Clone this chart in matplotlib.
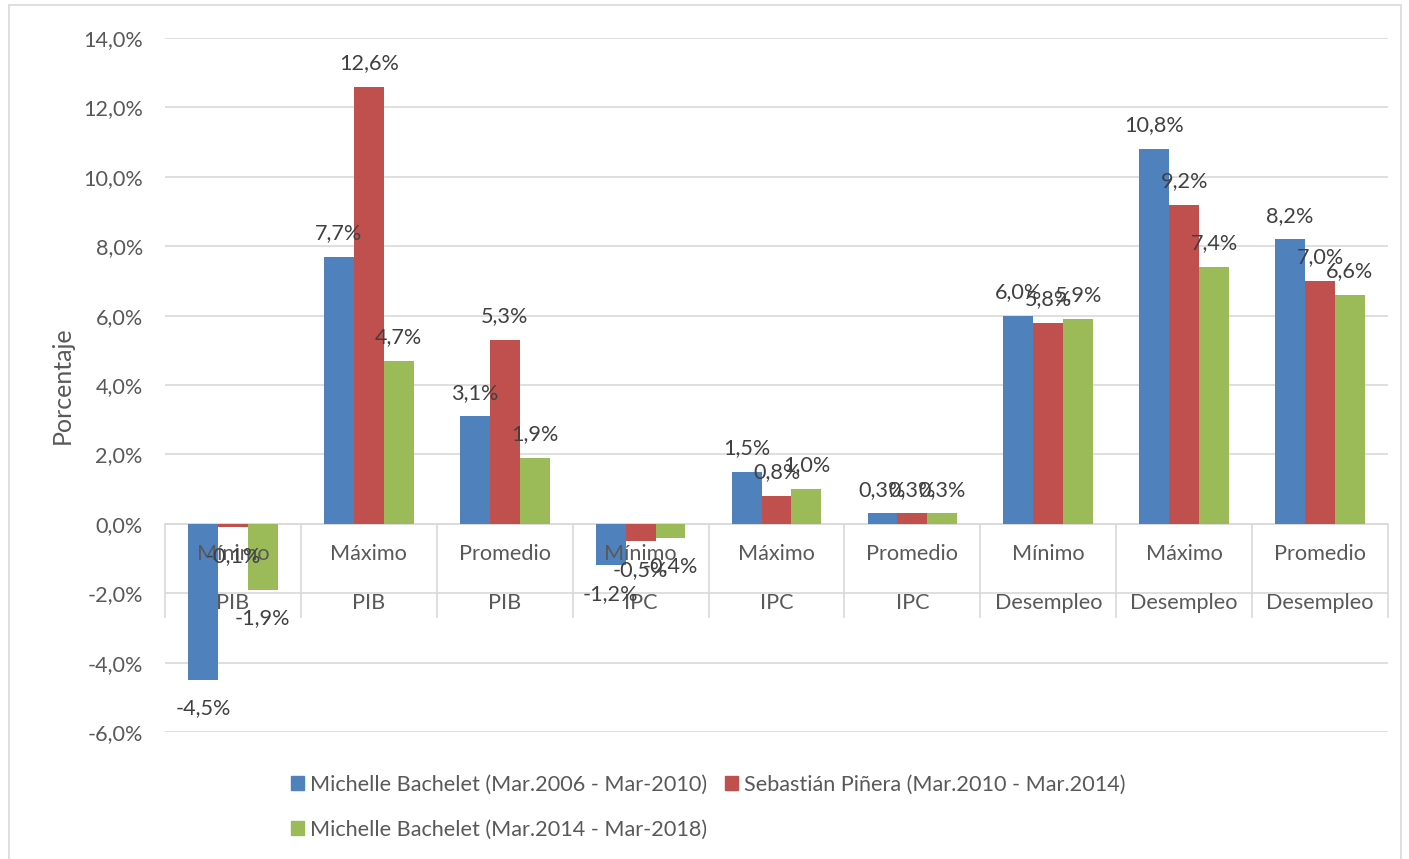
import matplotlib
matplotlib.use("Agg")
import matplotlib.pyplot as plt
from matplotlib.patches import Rectangle, Patch
from matplotlib.ticker import FuncFormatter, MultipleLocator
import numpy as np

# ---- data ----
sub_labels = ["Mínimo", "Máximo", "Promedio"] * 3
group_labels = ["PIB"] * 3 + ["IPC"] * 3 + ["Desempleo"] * 3
series_names = [
    "Michelle Bachelet (Mar.2006 - Mar-2010)",
    "Sebastián Piñera (Mar.2010 - Mar.2014)",
    "Michelle Bachelet (Mar.2014 - Mar-2018)",
]
bachelet1 = [-4.5, 7.7, 3.1, -1.2, 1.5, 0.3, 6.0, 10.8, 8.2]
pinera = [-0.1, 12.6, 5.3, -0.5, 0.8, 0.3, 5.8, 9.2, 7.0]
bachelet2 = [-1.9, 4.7, 1.9, -0.4, 1.0, 0.3, 5.9, 7.4, 6.6]
y_ticks = [-6, -4, -2, 0, 2, 4, 6, 8, 10, 12, 14]

colors = ["#4F81BD", "#C0504D", "#9BBB59"]
FONT = "Lato"
TXT = "#595959"
LBL = "#404040"
GRID = "#D9D9D9"
FS = 15.6

W, H = 1409, 859
fig = plt.figure(figsize=(W / 100, H / 100), dpi=100)
ax = fig.add_axes([165 / W, 1 - 732 / H, (1388 - 165) / W, (732 - 38) / H])

n = len(sub_labels)
x = np.arange(n)
bw = 0.22
series = [bachelet1, pinera, bachelet2]
for i, (vals, c) in enumerate(zip(series, colors)):
    xs = x + (i - 1) * bw
    ax.bar(xs, vals, width=bw, color=c, zorder=3)
    for xv, v in zip(xs, vals):
        off = 17 if v >= 0 else -20.5
        ax.annotate(f"{v:.1f}%".replace(".", ","), (xv, v), xytext=(0, off),
                    textcoords="offset points", ha="center", va="center",
                    fontsize=FS, family=FONT, color=LBL, zorder=6)

ax.set_xlim(-0.5, n - 0.5)
ax.set_ylim(y_ticks[0], y_ticks[-1])
ax.yaxis.set_major_locator(MultipleLocator(2))
ax.yaxis.set_major_formatter(FuncFormatter(lambda v, p: f"{v:.1f}%".replace(".", ",")))
ax.grid(axis="y", color=GRID, linewidth=1.2, zorder=0)
ax.set_axisbelow(True)
for s in ax.spines.values():
    s.set_visible(False)
ax.tick_params(axis="y", length=0, pad=16, labelsize=FS, labelcolor=TXT)
for t in ax.get_yticklabels():
    t.set_family(FONT)
ax.set_xticks([])

# zero line
ax.axhline(0, color=GRID, linewidth=1.2, zorder=2)

# category separators and labels (multi-level axis)
for b in np.arange(-0.5, n, 1.0):
    ax.plot([b, b], [0, -2.68], color=GRID, linewidth=1.2, zorder=2, clip_on=False)
for xi, (sl, gl) in enumerate(zip(sub_labels, group_labels)):
    ax.annotate(sl, (xi, 0), xytext=(0, -30 / 1.389), textcoords="offset points",
                ha="center", va="center", fontsize=FS, family=FONT, color=TXT, zorder=5)
    ax.annotate(gl, (xi, 0), xytext=(0, -79 / 1.389), textcoords="offset points",
                ha="center", va="center", fontsize=FS, family=FONT, color=TXT, zorder=5)

# y axis title
fig.text(62 / W, 1 - 385 / H, "Porcentaje", rotation=90, ha="center", va="center",
         fontsize=18, family=FONT, color=TXT)

# legend (row-wise order via column fill)
handles = [Patch(color=c) for c in colors]
order = [0, 2, 1]
leg = fig.legend([handles[i] for i in order], [series_names[i] for i in order],
                 ncol=2, loc="upper left", bbox_to_anchor=(291 / W, 1 - 775 / H),
                 frameon=False, handlelength=0.6, handleheight=0.6,
                 handletextpad=0.3, columnspacing=0.8, labelspacing=1.15,
                 borderpad=0, borderaxespad=0,
                 prop={"family": FONT, "size": FS})
for t in leg.get_texts():
    t.set_color(TXT)

# chart border
fig.patches.append(Rectangle((9 / W, -0.01), (1401 - 9) / W, 1.01 - 5 / H,
                             transform=fig.transFigure, fill=False,
                             edgecolor=GRID, linewidth=1.2))

fig.savefig("out.png", dpi=100)
